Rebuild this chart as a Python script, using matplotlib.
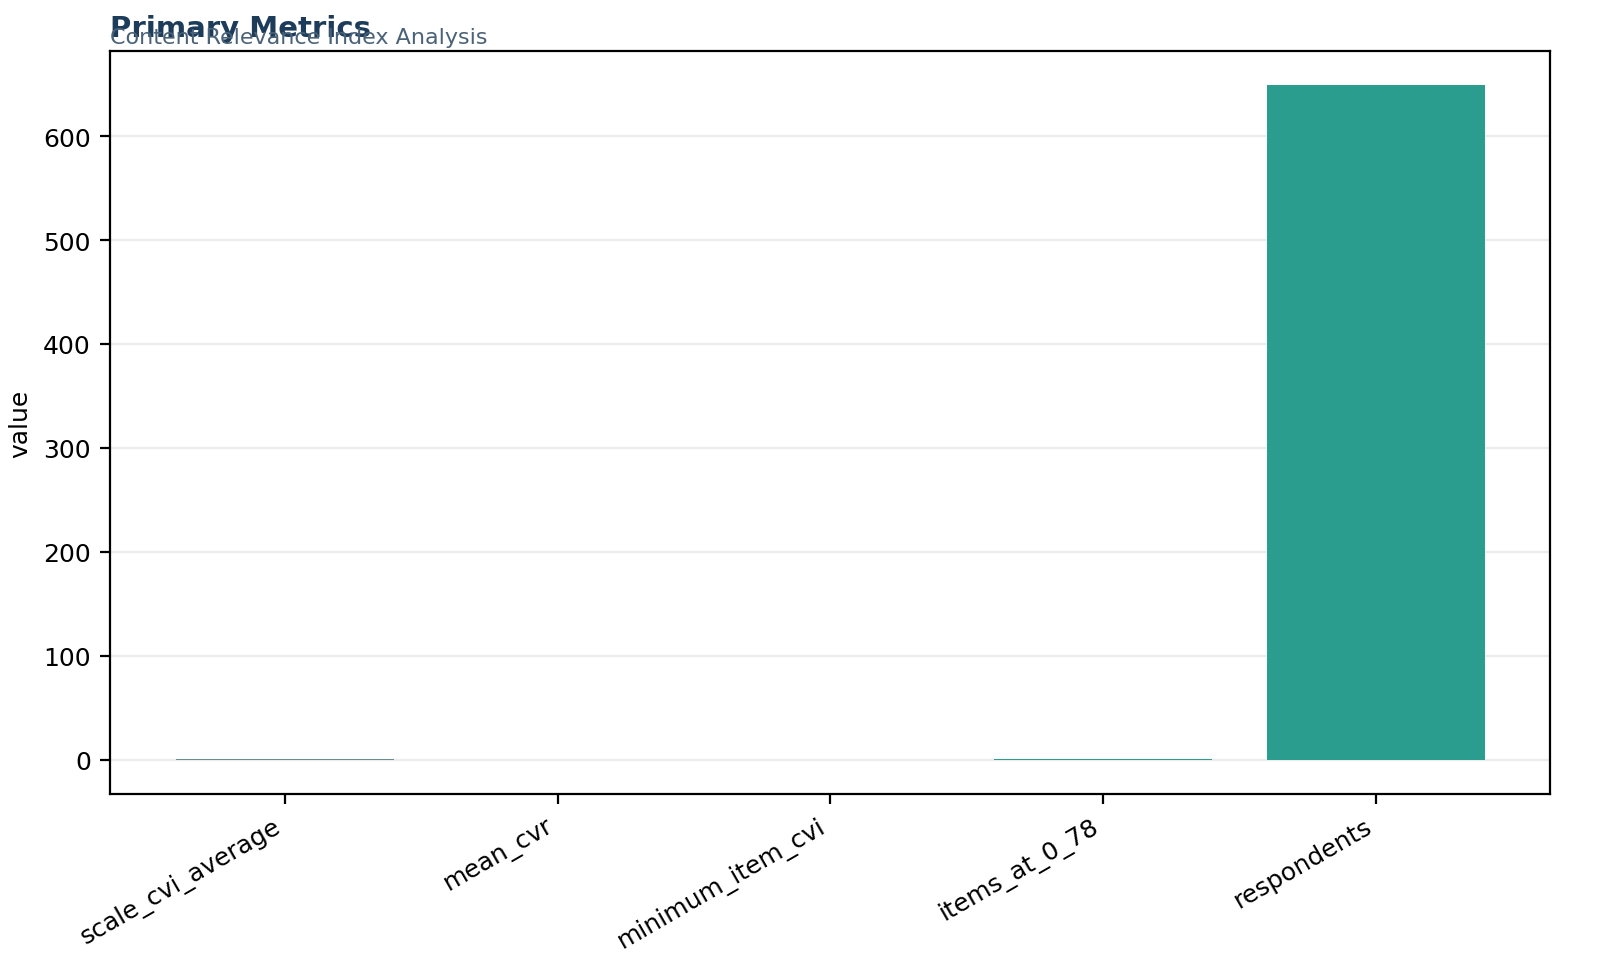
import matplotlib
matplotlib.use("Agg")
import matplotlib.pyplot as plt

categories = ["scale_cvi_average", "mean_cvr", "minimum_item_cvi", "items_at_0_78", "respondents"]
values = [0.91, 0.0, 0.0, 1.0, 649]
colors = ["#6b8e8e", "#2a9d8f", "#2a9d8f", "#2a9d8f", "#2a9d8f"]

fig = plt.figure(figsize=(8, 4.895), dpi=200)
ax = fig.add_axes([0.069, 0.188, 0.9, 0.759])
ax.bar(categories, values, color=colors, width=0.8, zorder=2)
ax.set_ylim(-33, 682)
ax.set_xlim(-0.64, 4.64)
ax.yaxis.grid(True, color="#ececec", linewidth=0.8, zorder=0)
ax.set_axisbelow(True)
ax.set_ylabel("value", fontsize=9)
ax.tick_params(labelsize=9)
plt.setp(ax.get_xticklabels(), rotation=30, ha="right")
fig.text(0.069, 0.962, "Primary Metrics", fontsize=10.5, fontweight="bold", color="#1d3c5a")
fig.text(0.069, 0.955, "Content Relevance Index Analysis", fontsize=8, color="#4a6278")
fig.savefig("out.png", dpi=200)
